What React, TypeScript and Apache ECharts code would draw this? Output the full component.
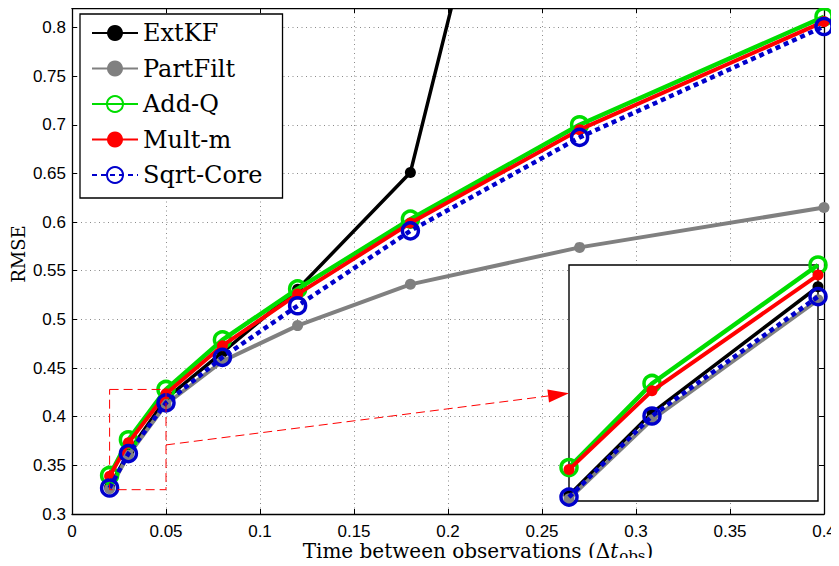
import React, { useEffect, useRef } from "react";
import * as echarts from "echarts";

// ---- data ----
const xValues = [0.02, 0.03, 0.05, 0.08, 0.12, 0.18, 0.27, 0.4];
const extKF = [0.3275, 0.3635, 0.4185, 0.466, 0.531, 0.651, 1.35, 2.1];
const partFilt = [0.326, 0.3605, 0.4128, 0.457, 0.4936, 0.536, 0.574, 0.615];
const addQ = [0.3396, 0.3763, 0.428, 0.479, 0.5313, 0.603, 0.7, 0.811];
const multM = [0.3387, 0.3731, 0.4236, 0.473, 0.526, 0.599, 0.695, 0.806];
const sqrtCore = [0.3267, 0.3621, 0.4142, 0.461, 0.514, 0.591, 0.687, 0.801];

const seriesNames = ["ExtKF", "PartFilt", "Add-Q", "Mult-m", "Sqrt-Core"];
const yTicks = [0.3, 0.35, 0.4, 0.45, 0.5, 0.55, 0.6, 0.65, 0.7, 0.75, 0.8];
const zoomX = [0.02, 0.05];
const zoomY = [0.325, 0.428];
const arrowFrom = [0.05, 0.371];
const arrowTo = [0.02, 0.372];

const MAIN = { left: 72, top: 8, right: 15, bottom: 52 };
const INSET = { left: 569, top: 265, width: 249, height: 236 };

const SERIF = "'DejaVu Serif', serif";
const SANS = "'Liberation Sans', Arial, sans-serif";

const styles = [
  { color: "#000000", width: 3.5, type: "solid", symbol: "circle", size: 11, hollow: false },
  { color: "#808080", width: 4, type: "solid", symbol: "circle", size: 11, hollow: false },
  { color: "#00dd00", width: 4.5, type: "solid", symbol: "circle", size: 16, hollow: true },
  { color: "#ff0000", width: 4, type: "solid", symbol: "circle", size: 11, hollow: false },
  { color: "#0000cc", width: 4.5, type: [5, 4] as any, symbol: "circle", size: 16, hollow: true },
];
const allData = [extKF, partFilt, addQ, multM, sqrtCore];

function fmt(v: number) {
  return String(Number(v.toFixed(2)));
}

export default function App() {
  const ref = useRef<HTMLDivElement>(null);
  useEffect(() => {
    if (!ref.current) return;
    const chart = echarts.init(ref.current, undefined, { renderer: "svg" });

    const mkSeries = (idx: number, grid: number, n?: number) => {
      const st = styles[idx];
      const vals = allData[idx];
      const pts = xValues.map((x, i) => [x, vals[i]]).slice(0, n ?? xValues.length);
      return {
        name: seriesNames[idx],
        type: "line",
        xAxisIndex: grid === 0 ? 0 : 2,
        yAxisIndex: grid === 0 ? 0 : 2,
        data: pts,
        symbol: st.symbol,
        symbolSize: st.size,
        showSymbol: true,
        clip: grid === 0,
        z: grid === 0 ? 2 + idx * 0.01 : 10 + idx * 0.01,
        lineStyle: { color: st.color, width: st.width, type: st.type },
        itemStyle: st.hollow
          ? { color: "rgba(255,255,255,0)", borderColor: st.color, borderWidth: 3.5 }
          : { color: st.color, borderWidth: 0 },
        emphasis: { disabled: true },
      };
    };

    const nInset = xValues.filter((x) => x <= zoomX[1] + 1e-9).length;

    const axisLineStyle = { show: true, onZero: false, lineStyle: { color: "#000", width: 1.3 } };
    const tickStyle = { show: true, inside: true, length: 5, lineStyle: { color: "#000", width: 1 } };
    const gridLine = { show: true, lineStyle: { color: "#8a8a8a", type: [1, 3.5], width: 1 } };

    const option: any = {
      animation: false,
      backgroundColor: "#ffffff",
      grid: [
        { ...MAIN, show: false },
        {
          left: INSET.left,
          top: INSET.top,
          width: INSET.width,
          height: INSET.height,
          show: true,
          backgroundColor: "#ffffff",
          borderColor: "#000000",
          borderWidth: 1.4,
          z: 5,
        },
      ],
      xAxis: [
        {
          gridIndex: 0,
          type: "value",
          min: 0,
          max: 0.4,
          interval: 0.05,
          position: "bottom",
          axisLine: axisLineStyle,
          axisTick: tickStyle,
          axisLabel: {
            color: "#000",
            fontFamily: SANS,
            fontSize: 17,
            lineHeight: 14,
            margin: 10,
            formatter: (v: number) => fmt(v),
          },
          splitLine: gridLine,
        },
        {
          gridIndex: 0,
          type: "value",
          min: 0,
          max: 0.4,
          interval: 0.05,
          position: "top",
          axisLine: axisLineStyle,
          axisTick: tickStyle,
          axisLabel: { show: false },
          splitLine: { show: false },
        },
        {
          gridIndex: 1,
          type: "value",
          min: zoomX[0],
          max: zoomX[1],
          show: false,
          splitLine: { show: false },
        },
      ],
      yAxis: [
        {
          gridIndex: 0,
          type: "value",
          min: 0.3,
          max: 0.82,
          interval: 0.05,
          position: "left",
          axisLine: axisLineStyle,
          axisTick: tickStyle,
          axisLabel: {
            color: "#000",
            fontFamily: SANS,
            fontSize: 17,
            margin: 6,
            showMaxLabel: false,
            formatter: (v: number) => (yTicks.some((t) => Math.abs(t - v) < 1e-6) ? fmt(v) : ""),
          },
          splitLine: gridLine,
        },
        {
          gridIndex: 0,
          type: "value",
          min: 0.3,
          max: 0.82,
          interval: 0.05,
          position: "right",
          axisLine: axisLineStyle,
          axisTick: tickStyle,
          axisLabel: { show: false },
          splitLine: { show: false },
        },
        {
          gridIndex: 1,
          type: "value",
          min: zoomY[0],
          max: zoomY[1],
          show: false,
          splitLine: { show: false },
        },
      ],
      legend: {
        data: seriesNames,
        orient: "vertical",
        left: 80,
        top: 14,
        padding: [7, 20, 11, 11],
        itemWidth: 46,
        itemHeight: 20,
        itemGap: 11.5,
        backgroundColor: "#ffffff",
        borderColor: "#000000",
        borderWidth: 1.3,
        borderRadius: 0,
        textStyle: { fontFamily: SERIF, fontSize: 24, color: "#000", lineHeight: 24 },
        selectedMode: false,
        z: 20,
      },
      series: [
        ...[0, 1, 2, 3, 4].map((i) => mkSeries(i, 0)),
        ...[0, 1, 2, 3, 4].map((i) => mkSeries(i, 1, nInset)),
      ],
    };
    chart.setOption(option);

    const p0 = chart.convertToPixel({ gridIndex: 0 } as any, [zoomX[0], zoomY[1]]) as number[];
    const p1 = chart.convertToPixel({ gridIndex: 0 } as any, [zoomX[1], zoomY[0]]) as number[];
    const a0 = chart.convertToPixel({ gridIndex: 0 } as any, arrowFrom) as number[];
    const a1 = chart.convertToPixel({ gridIndex: 1 } as any, arrowTo) as number[];
    const dx = a1[0] - a0[0];
    const dy = a1[1] - a0[1];
    const len = Math.sqrt(dx * dx + dy * dy);
    const ux = dx / len;
    const uy = dy / len;
    const headL = 21;
    const headW = 6.5;
    const bx = a1[0] - ux * headL;
    const by = a1[1] - uy * headL;

    chart.setOption({
      graphic: [
        {
          type: "rect",
          z: 30,
          shape: { x: p0[0], y: p0[1], width: p1[0] - p0[0], height: p1[1] - p0[1] },
          style: { fill: "none", stroke: "#ff0000", lineWidth: 1, lineDash: [9, 5] },
          silent: true,
        },
        {
          type: "line",
          z: 30,
          shape: { x1: a0[0], y1: a0[1], x2: bx, y2: by },
          style: { stroke: "#ff0000", lineWidth: 1, lineDash: [9, 5] },
          silent: true,
        },
        {
          type: "polygon",
          z: 30,
          shape: {
            points: [
              [a1[0], a1[1]],
              [bx - uy * headW, by + ux * headW],
              [bx + uy * headW, by - ux * headW],
            ],
          },
          style: { fill: "#ff0000" },
          silent: true,
        },
        {
          type: "text",
          z: 30,
          x: 18,
          y: 254,
          rotation: Math.PI / 2,
          style: {
            text: "RMSE",
            fontFamily: SERIF,
            fontSize: 18,
            fill: "#000",
            align: "center",
            verticalAlign: "middle",
          },
          silent: true,
        },
        {
          type: "text",
          z: 30,
          x: 478,
          y: 541,
          style: {
            text: "{n|Time between observations (}{n|Δ}{i|t}{s|obs}{n|)}",
            align: "center",
            verticalAlign: "top",
            rich: {
              n: { fontFamily: SERIF, fontSize: 20, fill: "#000", lineHeight: 16, verticalAlign: "top" },
              i: { fontFamily: SERIF, fontSize: 20, fontStyle: "italic", fill: "#000", lineHeight: 16, verticalAlign: "top" },
              s: { fontFamily: SERIF, fontSize: 15, fill: "#000", lineHeight: 12, verticalAlign: "top", padding: [7, 0, 0, 1] },
            },
          },
          silent: true,
        },
      ],
    });

    return () => chart.dispose();
  }, []);
  return <div ref={ref} style={{ width: 839, height: 566, margin: -8 }} />;
}
